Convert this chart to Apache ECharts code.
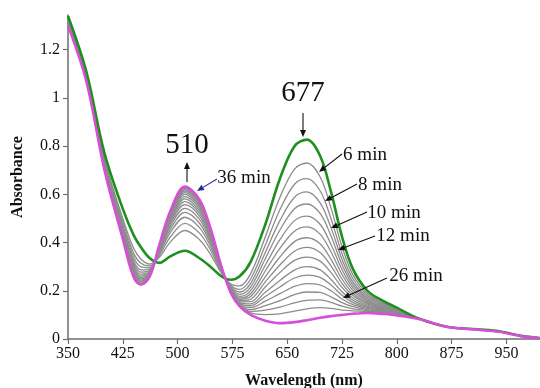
<!DOCTYPE html>
<html>
<head>
<meta charset="utf-8">
<script src="https://cdn.jsdelivr.net/npm/echarts@6/dist/echarts.min.js"></script>
<style>
html,body{margin:0;padding:0;background:#fff;}
#chart{width:540px;height:388px;}
</style>
</head>
<body>
<div id="chart"></div>
<script>
// Wavelength sample points (nm)
var wavelengths = [350,375,400,425,440,450,462,475,490,510,530,545,560,573,585,600,620,640,660,677,695,710,725,740,760,780,800,830,870,910,940,970,995];

// First spectrum (green) and final spectrum, 36 min (magenta)
var greenStart = [1.34,1.11,0.77,0.54,0.43,0.38,0.335,0.316,0.343,0.366,0.335,0.30,0.26,0.246,0.26,0.32,0.475,0.665,0.80,0.827,0.76,0.61,0.425,0.29,0.20,0.16,0.13,0.085,0.05,0.04,0.032,0.013,0.004];
var pink36 = [1.30,1.07,0.70,0.415,0.255,0.225,0.26,0.39,0.53,0.632,0.578,0.46,0.30,0.19,0.135,0.10,0.076,0.066,0.07,0.078,0.088,0.095,0.10,0.105,0.108,0.104,0.098,0.083,0.05,0.039,0.03,0.012,0.004];

// Intermediate spectra (grey)
var gray06 = [1.327,1.097,0.748,0.5,0.375,0.331,0.311,0.339,0.402,0.45,0.412,0.351,0.273,0.228,0.22,0.271,0.423,0.587,0.705,0.73,0.673,0.543,0.383,0.266,0.188,0.153,0.126,0.085,0.05,0.04,0.032,0.013,0.004];
var gray08 = [1.323,1.093,0.74,0.486,0.355,0.314,0.303,0.348,0.423,0.48,0.439,0.369,0.277,0.222,0.206,0.249,0.389,0.536,0.642,0.665,0.615,0.499,0.355,0.25,0.18,0.148,0.123,0.085,0.05,0.04,0.032,0.013,0.004];
var gray10 = [1.319,1.089,0.733,0.475,0.339,0.299,0.296,0.355,0.441,0.505,0.462,0.384,0.281,0.217,0.195,0.231,0.359,0.491,0.588,0.61,0.565,0.461,0.331,0.236,0.173,0.144,0.121,0.085,0.05,0.04,0.032,0.013,0.004];
var gray12 = [1.316,1.086,0.728,0.465,0.325,0.287,0.29,0.36,0.455,0.525,0.48,0.396,0.284,0.213,0.185,0.215,0.333,0.452,0.54,0.56,0.521,0.427,0.309,0.224,0.167,0.14,0.119,0.085,0.05,0.04,0.032,0.013,0.004];
var gray14 = [1.314,1.084,0.724,0.457,0.314,0.277,0.285,0.365,0.467,0.542,0.496,0.406,0.287,0.209,0.177,0.201,0.306,0.412,0.491,0.51,0.476,0.392,0.288,0.212,0.161,0.136,0.117,0.085,0.05,0.04,0.032,0.013,0.004];
var gray16 = [1.311,1.081,0.72,0.45,0.304,0.269,0.281,0.369,0.477,0.557,0.51,0.415,0.289,0.206,0.17,0.188,0.282,0.376,0.447,0.465,0.435,0.361,0.268,0.201,0.156,0.133,0.115,0.085,0.05,0.04,0.032,0.013,0.004];
var gray18 = [1.309,1.079,0.716,0.444,0.296,0.261,0.278,0.373,0.486,0.57,0.521,0.423,0.291,0.203,0.164,0.176,0.258,0.34,0.404,0.42,0.395,0.33,0.249,0.19,0.15,0.13,0.113,0.085,0.05,0.04,0.032,0.013,0.004];
var gray20 = [1.308,1.078,0.713,0.439,0.289,0.255,0.274,0.376,0.494,0.581,0.531,0.429,0.292,0.201,0.159,0.165,0.237,0.307,0.364,0.38,0.359,0.303,0.231,0.18,0.145,0.127,0.111,0.085,0.05,0.04,0.032,0.013,0.004];
var gray22 = [1.306,1.076,0.711,0.434,0.282,0.249,0.272,0.379,0.501,0.591,0.541,0.435,0.294,0.199,0.154,0.155,0.216,0.276,0.326,0.34,0.323,0.275,0.214,0.17,0.14,0.124,0.109,0.085,0.05,0.04,0.032,0.013,0.004];
var gray24 = [1.305,1.075,0.708,0.43,0.276,0.244,0.269,0.381,0.508,0.6,0.549,0.441,0.295,0.197,0.15,0.146,0.194,0.243,0.286,0.30,0.287,0.247,0.196,0.16,0.135,0.121,0.108,0.085,0.05,0.04,0.032,0.013,0.004];
var gray26 = [1.304,1.074,0.707,0.427,0.271,0.24,0.267,0.383,0.512,0.607,0.555,0.445,0.296,0.195,0.147,0.138,0.176,0.216,0.253,0.265,0.256,0.224,0.181,0.151,0.131,0.118,0.106,0.085,0.05,0.04,0.032,0.013,0.004];
var gray28 = [1.303,1.073,0.705,0.424,0.267,0.236,0.265,0.385,0.517,0.614,0.562,0.449,0.297,0.194,0.144,0.13,0.157,0.188,0.218,0.23,0.224,0.2,0.166,0.143,0.127,0.115,0.105,0.085,0.05,0.04,0.032,0.013,0.004];
var gray30 = [1.302,1.072,0.703,0.421,0.263,0.232,0.263,0.387,0.522,0.62,0.567,0.453,0.298,0.193,0.141,0.122,0.138,0.159,0.184,0.195,0.193,0.175,0.151,0.134,0.122,0.113,0.103,0.084,0.05,0.04,0.031,0.013,0.004];
var gray32 = [1.301,1.071,0.702,0.418,0.26,0.229,0.262,0.388,0.525,0.625,0.572,0.456,0.299,0.192,0.138,0.115,0.12,0.132,0.15,0.16,0.162,0.152,0.136,0.125,0.118,0.11,0.102,0.084,0.05,0.04,0.031,0.012,0.004];
var gray34 = [1.30,1.07,0.701,0.416,0.257,0.227,0.261,0.389,0.528,0.629,0.575,0.458,0.30,0.191,0.136,0.108,0.101,0.104,0.116,0.125,0.13,0.127,0.12,0.117,0.114,0.108,0.10,0.083,0.05,0.04,0.031,0.012,0.004];

var grayList = [gray06,gray08,gray10,gray12,gray14,gray16,gray18,gray20,gray22,gray24,gray26,gray28,gray30,gray32,gray34];

// Axis tick labels
var xTicks = [350,425,500,575,650,725,800,875,950];
var yTicks = [0,0.2,0.4,0.6,0.8,1,1.2];

function pairs(arr){ return wavelengths.map(function(w,i){ return [w, arr[i]]; }); }

var serif = "'Liberation Serif','Times New Roman',serif";

var series = [];
grayList.forEach(function(arr){
  series.push({type:'line', data:pairs(arr), showSymbol:false, smooth:0.35, silent:true,
    lineStyle:{color:'#8c8c8c', width:1.3}, z:2});
});
series.push({type:'line', data:pairs(greenStart), showSymbol:false, smooth:0.35,
  lineStyle:{color:'#1f8f1f', width:2.6}, z:3});
series.push({type:'line', data:pairs(pink36), showSymbol:false, smooth:0.35,
  lineStyle:{color:'#d64fd6', width:2.6}, z:4});

function arrow(x1,y1,x2,y2,color){
  var a = Math.atan2(y2-y1, x2-x1);
  var L = 7, H = 3;
  var bx = x2 - L*Math.cos(a), by = y2 - L*Math.sin(a);
  var px = -Math.sin(a)*H, py = Math.cos(a)*H;
  return [
    {type:'line', shape:{x1:x1,y1:y1,x2:bx,y2:by}, style:{stroke:color, lineWidth:1.1}, z:100},
    {type:'polygon', shape:{points:[[x2,y2],[bx+px,by+py],[bx-px,by-py]]}, style:{fill:color}, z:100}
  ];
}
function label(text,x,y,size){
  return {type:'text', x:x, y:y, z:100, style:{text:text, font:size+'px '+serif, fill:'#111', align:'center', verticalAlign:'middle'}};
}

var graphics = [];
graphics.push(label('510',187,145,29));
graphics = graphics.concat(arrow(187,182,187,162,'#111'));
graphics.push(label('677',303,93,29));
graphics = graphics.concat(arrow(303,113,303,137,'#111'));
graphics.push(label('36 min',244,178,19));
graphics = graphics.concat(arrow(217,179,197,191,'#2a2a9a'));
graphics.push(label('6 min',365,155,19));
graphics = graphics.concat(arrow(342,154,319,172,'#111'));
graphics.push(label('8 min',380,185,19));
graphics = graphics.concat(arrow(357,184,325,201,'#111'));
graphics.push(label('10 min',394,213,19));
graphics = graphics.concat(arrow(367,212,331,228,'#111'));
graphics.push(label('12 min',403,236,19));
graphics = graphics.concat(arrow(375,236,338,250,'#111'));
graphics.push(label('26 min',416,276,19));
graphics = graphics.concat(arrow(387,278,343,298,'#111'));

var chart = echarts.init(document.getElementById('chart'), null, {renderer:'canvas'});
chart.setOption({
  animation:false,
  backgroundColor:'#fff',
  grid:{left:68, right:0, top:15, bottom:49, containLabel:false, outerBoundsMode:'none'},
  xAxis:{
    type:'value', min:350, max:996,
    name:'Wavelength (nm)', nameLocation:'middle', nameGap:34,
    nameTextStyle:{fontFamily:serif, fontWeight:'bold', fontSize:16, color:'#111'},
    axisLine:{lineStyle:{color:'#6e6e6e', width:1.5}},
    axisTick:{show:true, length:5, inside:false, customValues:xTicks, lineStyle:{color:'#6e6e6e', width:1.2}},
    axisLabel:{customValues:xTicks, fontFamily:serif, fontSize:16, color:'#111', margin:7},
    splitLine:{show:false}
  },
  yAxis:{
    type:'value', min:0, max:1.344,
    name:'Absorbance', nameLocation:'middle', nameGap:42, nameRotate:90,
    nameTextStyle:{fontFamily:serif, fontWeight:'bold', fontSize:16, color:'#111'},
    axisLine:{show:true, lineStyle:{color:'#6e6e6e', width:1.5}},
    axisTick:{show:true, length:5, inside:false, customValues:yTicks, lineStyle:{color:'#6e6e6e', width:1.2}},
    axisLabel:{customValues:yTicks, fontFamily:serif, fontSize:16, color:'#111', margin:8},
    splitLine:{show:false}
  },
  series:series,
  graphic:graphics
});
</script>
</body>
</html>
